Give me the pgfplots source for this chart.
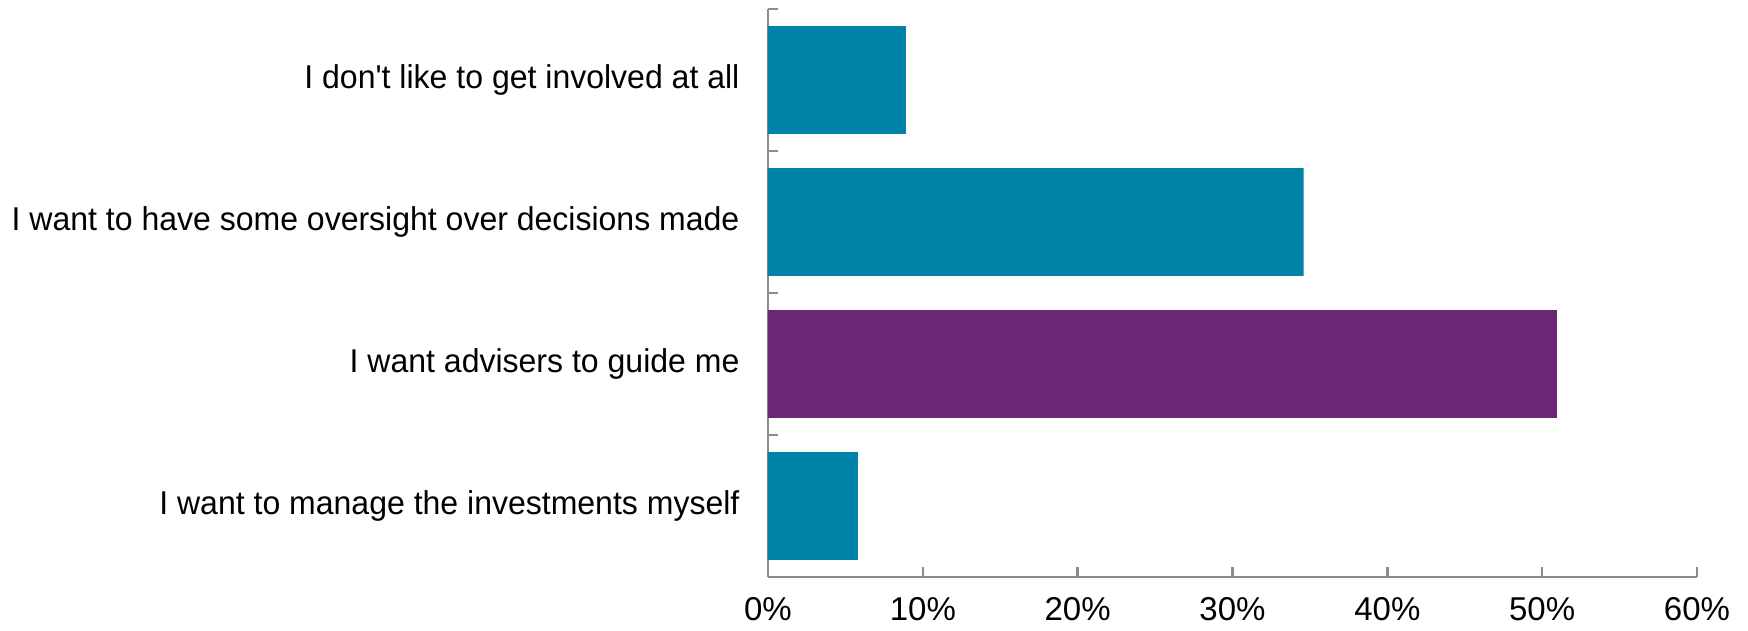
\documentclass[border=0pt]{standalone}
\usepackage{pgfplots}
\pgfplotsset{compat=1.18}
\usepackage{fontspec}
\setmainfont{Liberation Sans}
\definecolor{teal1}{RGB}{0,131,169}
\definecolor{purp1}{RGB}{107,39,118}
\definecolor{axgray}{RGB}{140,140,140}
\begin{document}
\begin{tikzpicture}
\begin{axis}[
  name=ax,
  scale only axis,
  width=371.6pt, height=227.2pt,
  xbar, bar width=0.76, bar shift=0pt,
  xmin=0, xmax=60,
  ymin=-0.5, ymax=3.5,
  axis x line*=bottom, axis y line*=left,
  axis line style={axgray, line width=1pt},
  xtick={0,10,20,30,40,50,60},
  xticklabels={0\%,10\%,20\%,30\%,40\%,50\%,60\%},
  ytick={0,1,2,3},
  yticklabels={I want to manage the investments myself, I want advisers to guide me, I want to have some oversight over decisions made, I don\textquotesingle t like to get involved at all},
  minor ytick={-0.5,0.5,1.5,2.5,3.5},
  tick align=inside,
  tick style={axgray, line width=1pt},
  every major y tick/.append style={draw=none},
  minor tick length=4pt,
  major tick length=4pt,
  xticklabel style={font=\fontsize{13.2}{16}\selectfont, inner sep=0pt, anchor=north, yshift=-8pt},
  yticklabel style={font=\fontsize{13.2}{16}\selectfont, xscale=0.97, inner sep=0pt, anchor=east, xshift=-11.6pt},
  clip=false,
]
\addplot[fill=teal1, draw=none] coordinates {(5.8,0) (0,1) (34.6,2) (8.9,3)};
\addplot[fill=purp1, draw=none] coordinates {(0,0) (50.95,1) (0,2) (0,3)};
\end{axis}
\path ([xshift=-307.2pt,yshift=-21.6pt]ax.south west) rectangle ([xshift=20.4pt,yshift=3.6pt]ax.north east);
\end{tikzpicture}
\end{document}
